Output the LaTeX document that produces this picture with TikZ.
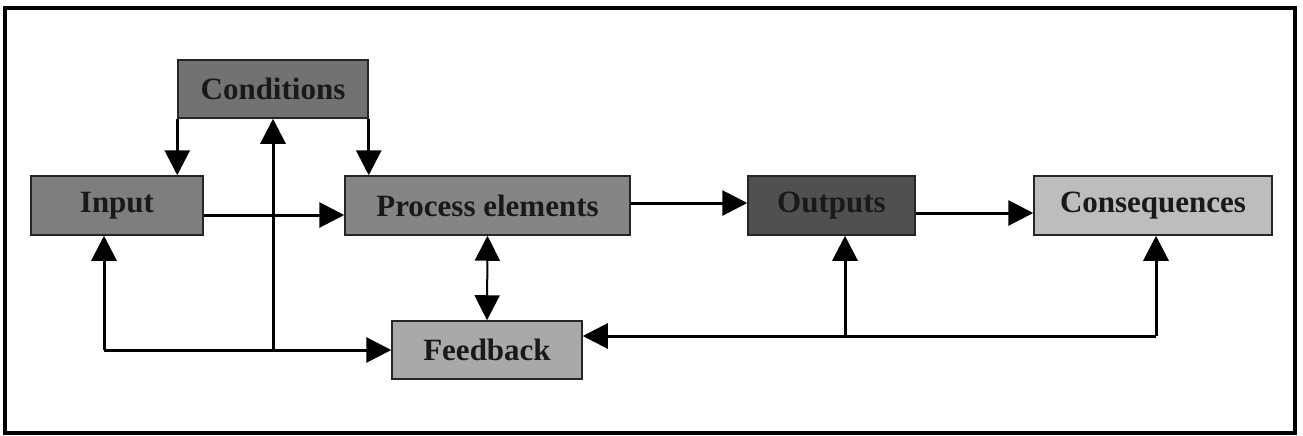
\documentclass[tikz,border=0pt]{standalone}
\usepackage{fontspec}
\setmainfont{Liberation Serif}
\usetikzlibrary{arrows.meta}
\definecolor{ccond}{HTML}{727272}
\definecolor{cinp}{HTML}{7E7E7E}
\definecolor{cproc}{HTML}{858585}
\definecolor{cout}{HTML}{505050}
\definecolor{ccons}{HTML}{BDBDBD}
\definecolor{cfb}{HTML}{A9A9A9}
\begin{document}
\begin{tikzpicture}[x=1pt,y=-1pt,
  box/.style={draw=black!85,line width=1.5pt,rectangle,inner sep=0pt,
    font=\fontsize{31}{31}\selectfont\bfseries,text=black!90},
  conn/.style={line width=3pt,-{Triangle[length=25pt,width=25pt]}},
  plain/.style={line width=3pt}]
\useasboundingbox (0,0) rectangle (1303,436);
\draw[line width=4pt] (5,8) rectangle (1295,433);
\node[box,fill=ccond,minimum width=190pt,minimum height=58pt] (cond) at (273,89) {Conditions};
\node[box,fill=cinp,minimum width=172pt,minimum height=59pt] (inp) at (117,205.5) {Input};
\node[box,fill=cproc,minimum width=285pt,minimum height=59pt] (proc) at (487.5,205.5) {Process elements};
\node[box,fill=cout,minimum width=167pt,minimum height=59pt] (out) at (831.5,205.5) {Outputs};
\node[box,fill=ccons,minimum width=238pt,minimum height=59pt] (cons) at (1153,205.5) {Consequences};
\node[box,fill=cfb,minimum width=190pt,minimum height=58pt] (fb) at (487,350) {Feedback};
\coordinate (fl) at (104,350);
\coordinate (fc) at (273,350);
\coordinate (fo) at (845,336);
\coordinate (fr) at (1156,336);
% conditions down
\draw[conn] (cond.south west) -- (cond.south west |- inp.north);
\draw[conn] (cond.south east) -- (cond.south east |- proc.north);
% main flow
\draw[conn] ([yshift=-9.5pt]inp.east) -- ([yshift=-9.5pt]inp.east -| proc.west);
\draw[conn] ([yshift=2.5pt]proc.east) -- ([yshift=2.5pt]proc.east -| out.west);
\draw[conn] ([yshift=-7.5pt]out.east) -- ([yshift=-7.5pt]out.east -| cons.west);
% process <-> feedback
\draw[line width=2pt,{Triangle[length=25pt,width=25pt]}-{Triangle[length=25pt,width=25pt]}] (proc.south) -- (fb.north);
% left feedback loop
\draw[conn] (fl) -- (fb.west);
\draw[conn] (fl) -- (fl |- inp.south);
\draw[conn] (fc) -- (cond.south);
% right feedback loop
\draw[conn] (fr) -- ([yshift=14pt]fb.east);
\draw[conn] (fr) -- (fr |- cons.south);
\draw[conn] (fo) -- (fo |- out.south);
\end{tikzpicture}
\end{document}
